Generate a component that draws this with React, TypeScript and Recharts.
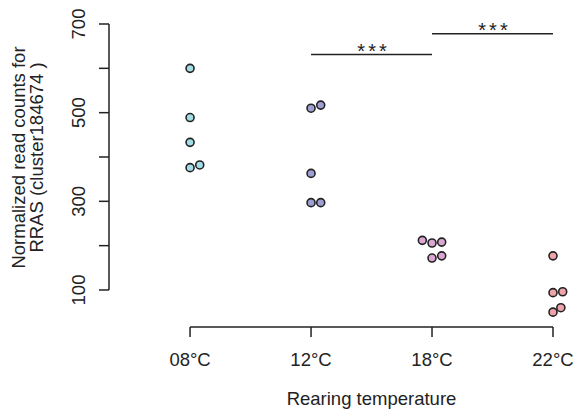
import React from "react";
import { ScatterChart, Scatter, XAxis, YAxis, ReferenceLine } from "recharts";

const temperatures = ["08°C", "12°C", "18°C", "22°C"];
const yTicks = [100, 200, 300, 400, 500, 600, 700];

// read counts per rearing temperature, with the small horizontal jitter of each point
const counts08 = [600, 489, 433, 376, 382];
const jitter08 = [0, 0, 0, 0, 0.08];
const counts12 = [510, 517, 363, 297, 297];
const jitter12 = [0, 0.08, 0, 0, 0.08];
const counts18 = [212, 206, 208, 172, 177];
const jitter18 = [-0.08, 0, 0.08, 0, 0.08];
const counts22 = [177, 94, 96, 50, 60];
const jitter22 = [0, 0, 0.08, 0, 0.065];

// significance brackets: [from group, to group, height]
const brackets = [
  [1, 2, 631],
  [2, 3, 678],
];

const colors = ["#a3dde6", "#9e9fd2", "#dba6d2", "#eda5a9"];
const FONT = "'Liberation Sans', Arial, sans-serif";
const FS = 18.5;
const INK = "#222";
const X_DOMAIN: [number, number] = [-0.67, 3.124];
const Y_DOMAIN: [number, number] = [16.5, 720.3];

const toPoints = (counts: number[], jitter: number[], group: number) =>
  counts.map((v, i) => ({ x: group + jitter[i], y: v }));

const groups = [
  toPoints(counts08, jitter08, 0),
  toPoints(counts12, jitter12, 1),
  toPoints(counts18, jitter18, 2),
  toPoints(counts22, jitter22, 3),
];

const dot = (fill: string) => (props: any) => (
  <circle cx={props.cx} cy={props.cy} r={4} fill={fill} stroke={INK} strokeWidth={1.6} />
);

const XTick = (props: any) => (
  <text x={props.x} y={props.y + 27} textAnchor="middle" fontSize={FS} fontFamily={FONT} fill={INK}>
    {temperatures[props.payload.value]}
  </text>
);

const YTick = (props: any) => {
  const v = props.payload.value;
  if (v % 200 === 0) return null;
  const x = props.x - 12;
  return (
    <text x={x} y={props.y} transform={`rotate(-90, ${x}, ${props.y})`} textAnchor="middle" fontSize={FS} fontFamily={FONT} fill={INK}>
      {v}
    </text>
  );
};

const YTitle = () => (
  <g fontSize={FS} fontFamily={FONT} fill={INK}>
    <text x={24.5} y={157.5} transform="rotate(-90, 24.5, 157.5)" textAnchor="middle">
      Normalized read counts for
    </text>
    <text x={42.5} y={157.5} transform="rotate(-90, 42.5, 157.5)" textAnchor="middle">
      RRAS (cluster184674 )
    </text>
  </g>
);

const XTitle = () => (
  <text x={371.5} y={405} textAnchor="middle" fontSize={FS} fontFamily={FONT} fill={INK}>
    Rearing temperature
  </text>
);

const Stars = (props: any) => {
  const vb = props.viewBox || {};
  return (
    <text x={vb.x + vb.width / 2 + 2} y={vb.y + 3} textAnchor="middle" fontSize={20} letterSpacing={3} fontFamily={FONT} fill={INK}>
      ***
    </text>
  );
};

export default function App() {
  return (
    <div style={{ position: "absolute", left: 0, top: 0, background: "#fff" }}>
      <ScatterChart width={576} height={419} margin={{ top: 15, right: 8, bottom: 32, left: 49 }}>
        <XAxis
          type="number"
          dataKey="x"
          domain={X_DOMAIN}
          ticks={[0, 1, 2, 3]}
          allowDataOverflow
          height={60}
          axisLine={false}
          tickSize={10}
          tickLine={{ stroke: INK, strokeWidth: 1.5 }}
          tick={<XTick />}
          label={<XTitle />}
        />
        <YAxis
          type="number"
          dataKey="y"
          domain={Y_DOMAIN}
          ticks={yTicks}
          allowDataOverflow
          width={60}
          axisLine={false}
          tickSize={10}
          tickLine={{ stroke: INK, strokeWidth: 1.5 }}
          tick={<YTick />}
          label={<YTitle />}
        />
        <ReferenceLine
          segment={[{ x: X_DOMAIN[0], y: 100 }, { x: X_DOMAIN[0], y: 700 }]}
          stroke={INK}
          strokeWidth={1.5}
          ifOverflow="visible"
        />
        <ReferenceLine
          segment={[{ x: 0, y: Y_DOMAIN[0] }, { x: 3, y: Y_DOMAIN[0] }]}
          stroke={INK}
          strokeWidth={1.5}
          ifOverflow="visible"
        />
        {brackets.map(([a, b, h], i) => (
          <ReferenceLine
            key={i}
            segment={[{ x: a, y: h }, { x: b, y: h }]}
            stroke={INK}
            strokeWidth={1.5}
            ifOverflow="visible"
            label={<Stars />}
          />
        ))}
        {groups.map((g, i) => (
          <Scatter key={temperatures[i]} data={g} shape={dot(colors[i])} isAnimationActive={false} />
        ))}
      </ScatterChart>
    </div>
  );
}
